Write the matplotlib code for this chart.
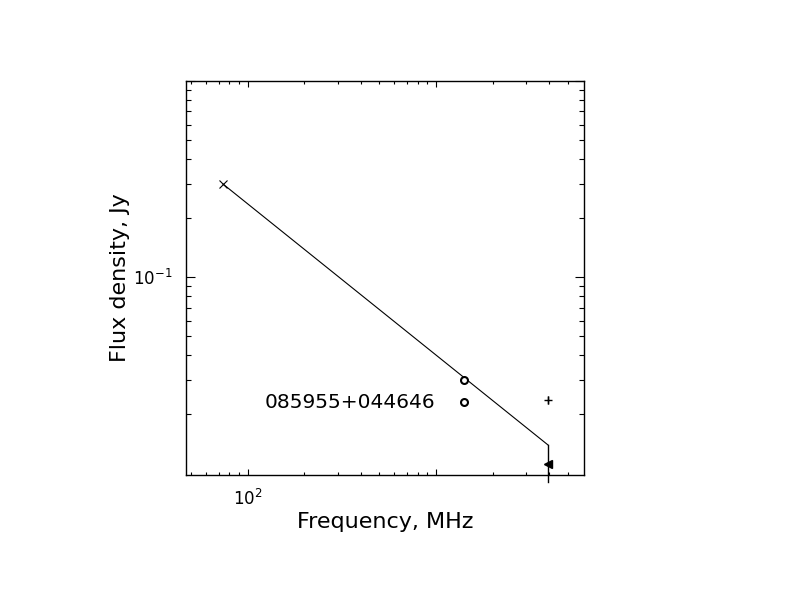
import matplotlib
matplotlib.use("Agg")
import matplotlib.pyplot as plt
from matplotlib.ticker import FixedLocator, NullFormatter

# measured points (MHz, Jy)
cross_freq = [74]
cross_flux = [0.298]
circle_freq = [1400, 1400]
circle_flux = [0.0299, 0.0231]
star_freq = [3950]
star_flux = [0.0237]
star_err = [0.0012]
limit_freq = [3950]
limit_flux = [0.0111]

# power-law fit end points
fit_freq = [74, 3950]
fit_flux = [0.298, 0.0139]
# vertical limit line
vline_freq = [3950, 3950]
vline_flux = [0.0139, 0.00904]

source_name = "085955+044646"

x_major = [100, 1000]
x_major_labels = [r"$10^2$", ""]
x_minor = [50, 60, 70, 80, 90, 200, 300, 400, 500, 600, 700, 800, 900,
           2000, 3000, 4000, 5000]
y_major = [0.1, 1.0]
y_major_labels = [r"$10^{-1}$", ""]
y_minor = [0.02, 0.03, 0.04, 0.05, 0.06, 0.07, 0.08, 0.09,
           0.2, 0.3, 0.4, 0.5, 0.6, 0.7, 0.8, 0.9]

fig = plt.figure(figsize=(7.92, 6.12), dpi=100)
ax = fig.add_axes([186 / 792, 1 - 475 / 612, 398 / 792, 394 / 612])
ax.set_xscale("log")
ax.set_yscale("log")
ax.set_xlim(47.0, 6110)
ax.set_ylim(0.0098, 1.0)

ax.plot(fit_freq, fit_flux, color="black", lw=0.8)
ax.plot(vline_freq, vline_flux, color="black", lw=1.0, clip_on=False)

ax.plot(cross_freq, cross_flux, "x", color="black", ms=6, mew=0.8)
ax.plot(circle_freq, circle_flux, "o", mfc="white", mec="black", ms=5, mew=1.5)
ax.errorbar(star_freq, star_flux, yerr=star_err, fmt="+", color="black",
            ms=6, mew=1.0, elinewidth=1.0, capsize=0)
ax.plot(limit_freq, limit_flux, "<", color="black", ms=6)

ax.text(123.6, 0.0229, source_name, fontsize=14.5, va="center", ha="left")

ax.xaxis.set_major_locator(FixedLocator(x_major))
ax.xaxis.set_minor_locator(FixedLocator(x_minor))
ax.set_xticklabels(x_major_labels)
ax.xaxis.set_minor_formatter(NullFormatter())
ax.yaxis.set_major_locator(FixedLocator(y_major))
ax.yaxis.set_minor_locator(FixedLocator(y_minor))
ax.set_yticklabels(y_major_labels)
ax.yaxis.set_minor_formatter(NullFormatter())

ax.tick_params(axis="both", which="both", direction="in", top=True, right=True,
               width=0.8, labelsize=12)
ax.tick_params(axis="x", which="major", length=4, pad=10)
ax.tick_params(axis="x", which="minor", length=2.2)
ax.tick_params(axis="y", which="major", length=6.5, pad=10)
ax.tick_params(axis="y", which="minor", length=3.6)

for s in ax.spines.values():
    s.set_linewidth(1.0)

ax.set_xlabel("Frequency, MHz", fontsize=16, labelpad=2)
ax.set_ylabel("Flux density, Jy", fontsize=16, labelpad=2)

fig.savefig("out.png", dpi=100)
